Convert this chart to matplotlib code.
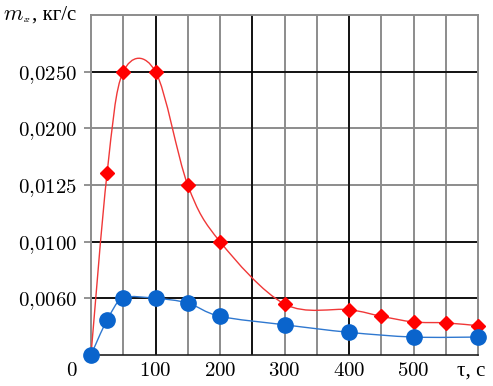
import numpy as np
import matplotlib
matplotlib.use("Agg")
import matplotlib.pyplot as plt
from matplotlib.path import Path
from matplotlib.patches import PathPatch

plt.rcParams['mathtext.fontset'] = 'cm'
plt.rcParams['font.family'] = ['Liberation Serif', 'DejaVu Serif']

# data
tau_red = [0, 25, 50, 100, 150, 200, 300, 400, 450, 500, 550, 600]
m_red = [0.0, 0.0141, 0.0250, 0.0250, 0.0125, 0.0100,
         0.0054, 0.0048, 0.0041, 0.0035, 0.0034, 0.0031]
tau_blue = [0, 25, 50, 100, 150, 200, 300, 400, 500, 600]
m_blue = [0.0, 0.0037, 0.0060, 0.0060, 0.0055, 0.0041,
          0.0032, 0.0024, 0.0019, 0.0019]

# y axis is not linear: tick values are equally spaced
y_levels = [0.0, 0.0060, 0.0100, 0.0125, 0.0200, 0.0250, 0.0300]
y_labels = ['0,0060', '0,0100', '0,0125', '0,0200', '0,0250']
pos = np.arange(len(y_levels), dtype=float)


def fwd(v):
    return np.interp(v, y_levels, pos)


def inv(p):
    return np.interp(p, pos, y_levels)


def smooth_path(x, y):
    # excel-like smoothed line, bezier control points in scale space
    P = np.column_stack([np.asarray(x, float), fwd(np.asarray(y, float))])
    n = len(P)
    verts = [P[0]]
    codes = [Path.MOVETO]
    for i in range(n - 1):
        p_prev = P[i - 1] if i > 0 else P[i]
        p_next2 = P[i + 2] if i + 2 < n else P[i + 1]
        c1 = P[i] + (P[i + 1] - p_prev) / 6
        c2 = P[i + 1] - (p_next2 - P[i]) / 6
        verts += [c1, c2, P[i + 1]]
        codes += [Path.CURVE4] * 3
    verts = np.array(verts)
    verts[:, 1] = inv(verts[:, 1])
    return Path(verts, codes)


fig = plt.figure(figsize=(4.93, 3.86), dpi=100)
ax = fig.add_axes([91 / 493, 31 / 386, 387 / 493, 340 / 386])
ax.set_yscale('function', functions=(fwd, inv))
ax.set_xlim(0, 600)
ax.set_ylim(0, 0.0300)

ax.set_xticks(range(50, 600, 50))
ax.set_xticklabels(['$%d$' % t if t % 100 == 0 else '' for t in range(50, 600, 50)])
ax.set_yticks(y_levels[1:-1])
ax.set_yticklabels(['$' + s.replace(',', '{,}') + '$' for s in y_labels])
ax.tick_params(axis='x', length=0, pad=5, labelsize=15)
ax.tick_params(axis='y', length=5, width=1.2, color='#808080', pad=5, labelsize=15)
ax.yaxis.set_minor_locator(plt.NullLocator())
ax.xaxis.set_minor_locator(plt.NullLocator())

ax.grid(True, color='#8c8c8c', lw=1.4)
for t in [100, 250, 400]:
    ax.axvline(t, color='black', lw=1.2, zorder=1.5)
for v in [0.0060, 0.0100, 0.0250]:
    ax.axhline(v, color='black', lw=1.2, zorder=1.5)
ax.set_axisbelow(True)
for s in ['left', 'right', 'top']:
    ax.spines[s].set_color('#8c8c8c')
    ax.spines[s].set_linewidth(1.4)
ax.spines['bottom'].set_color('#202020')
ax.spines['bottom'].set_linewidth(1.2)

ax.add_patch(PathPatch(smooth_path(tau_red, m_red), fill=False,
                       edgecolor='#f03838', lw=1.0, zorder=3))
ax.plot(tau_red, m_red, 'D', color='#ff0000', ms=7, zorder=4, clip_on=False)
ax.add_patch(PathPatch(smooth_path(tau_blue, m_blue), fill=False,
                       edgecolor='#2f78d0', lw=1.0, zorder=5))
ax.plot(tau_blue, m_blue, 'o', color='#0a64cc', ms=11, zorder=6, clip_on=False)

fig.text(72 / 493, 1 - 372 / 386, '$0$', fontsize=15, ha='center', va='center')
fig.text(471 / 493, 1 - 371 / 386, 'τ, с', fontsize=15, ha='center', va='center')
# axis title: italic m with a tiny subscript
fig.text(3 / 493, 1 - 20 / 386, '$m$', fontsize=16, ha='left', va='baseline')
fig.text(24 / 493, 1 - 22 / 386, 'гг', fontsize=6, style='italic',
         ha='left', va='baseline')
fig.text(32 / 493, 1 - 20 / 386, ', кг/с', fontsize=15, ha='left', va='baseline')

fig.savefig('out.png', dpi=100)
